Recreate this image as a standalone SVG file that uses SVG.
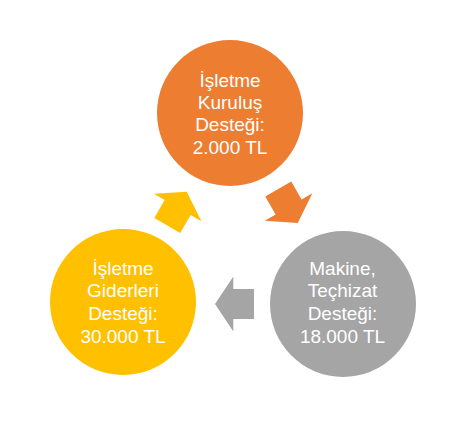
<svg xmlns="http://www.w3.org/2000/svg" width="466" height="421" viewBox="0 0 466 421">
  <defs>
    <style>
      .lbl { font-family: "Liberation Sans", Arial, sans-serif; font-size: 19px; fill: #ffffff; text-anchor: middle; }
    </style>
    <polygon id="arr" points="-19.5,-15 1.2,-15 1.2,-27.5 19.5,0 1.2,27.5 1.2,15 -19.5,15"/>
  </defs>
  <rect width="466" height="421" fill="#ffffff"/>
  <g id="connectors">
    <use href="#arr" fill="#ED7D31" transform="translate(288,206) rotate(60)"/>
    <use href="#arr" fill="#A5A5A5" transform="translate(234.5,304) rotate(180)"/>
    <use href="#arr" fill="#FFC000" transform="translate(177,208.6) rotate(-60)"/>
  </g>
  <g id="node-kurulus">
    <circle cx="230" cy="113" r="73" fill="#ED7D31"/>
    <text class="lbl" x="230" y="86.8">İşletme</text>
    <text class="lbl" x="230" y="109.1">Kuruluş</text>
    <text class="lbl" x="230" y="131.4">Desteği:</text>
    <text class="lbl" x="230" y="153.7">2.000 TL</text>
  </g>
  <g id="node-makine">
    <circle cx="343" cy="304" r="73" fill="#A5A5A5"/>
    <text class="lbl" x="342.5" y="274.5">Makine,</text>
    <text class="lbl" x="342.5" y="297.3">Teçhizat</text>
    <text class="lbl" x="342.5" y="320.1">Desteği:</text>
    <text class="lbl" x="342.5" y="343">18.000 TL</text>
  </g>
  <g id="node-giderler">
    <circle cx="123" cy="302" r="73" fill="#FFC000"/>
    <text class="lbl" x="123" y="274.5">İşletme</text>
    <text class="lbl" x="123" y="297.3">Giderleri</text>
    <text class="lbl" x="123" y="320.1">Desteği:</text>
    <text class="lbl" x="123" y="343">30.000 TL</text>
  </g>
</svg>
